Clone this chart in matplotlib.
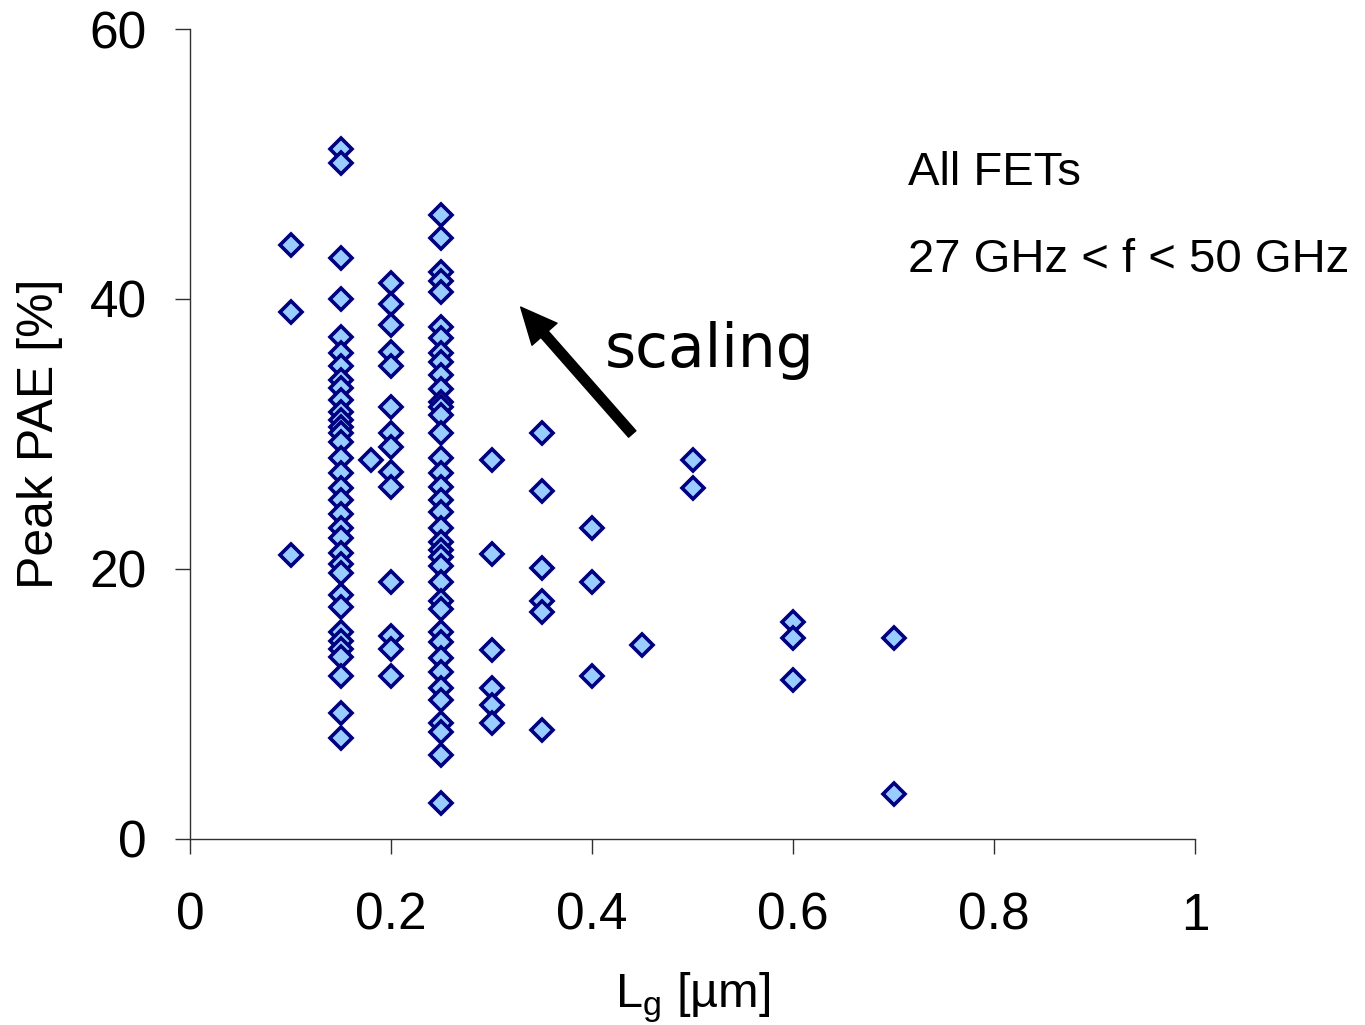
import numpy as np
import matplotlib
matplotlib.use('agg')
import matplotlib.pyplot as plt

matplotlib.rc('font', family=['Liberation Sans', 'DejaVu Sans'], size=34)

pae_010 = [44.0, 39.0, 21.0]
pae_015 = [51.1, 50.1, 43.0, 40.0, 37.2, 36.0, 35.0, 34.0, 33.4, 32.5, 31.6,
           31.0, 30.5, 30.1, 29.4, 28.2, 27.1, 26.0, 25.1, 24.1, 23.0, 22.3,
           21.2, 20.4, 19.7, 18.1, 17.2, 15.3, 14.7, 14.1, 13.5, 12.1, 9.3, 7.5]
pae_018 = [28.1]
pae_020 = [41.2, 39.6, 38.1, 36.1, 35.0, 32.0, 30.1, 29.0, 27.2, 26.1, 19.0,
           15.0, 14.1, 12.1]
pae_025 = [46.2, 44.5, 42.0, 41.3, 40.5, 37.9, 37.1, 36.0, 35.3, 34.4, 33.3,
           32.4, 32.0, 31.4, 30.1, 28.2, 27.1, 26.1, 25.1, 24.2, 23.0, 22.0,
           21.4, 20.9, 20.2, 19.0, 17.6, 17.0, 15.3, 14.6, 13.4, 12.4, 11.2,
           10.3, 8.6, 7.9, 6.2, 2.7]
pae_030 = [28.1, 21.1, 14.0, 11.2, 9.9, 8.6]
pae_035 = [30.1, 25.8, 20.1, 17.6, 16.8, 8.1]
pae_040 = [23.0, 19.0, 12.1]
pae_045 = [14.4]
pae_050 = [28.1, 26.0]
pae_060 = [16.1, 14.9, 11.8]
pae_070 = [14.9, 3.3]

groups = [(0.10, pae_010), (0.15, pae_015), (0.18, pae_018), (0.20, pae_020),
          (0.25, pae_025), (0.30, pae_030), (0.35, pae_035), (0.40, pae_040),
          (0.45, pae_045), (0.50, pae_050), (0.60, pae_060), (0.70, pae_070)]
lg = np.concatenate([[g] * len(v) for g, v in groups])
pae = np.concatenate([v for g, v in groups])

fig = plt.figure(figsize=(13.65, 10.25), dpi=100)
ax = fig.add_axes([0.1392, 0.1815, 0.7363, 0.7902])

ax.plot(lg, pae, 'D', ms=11.5, mfc='#99CCFF', mec='#000080', mew=2.6,
        clip_on=False)

ax.set_xlim(0, 1)
ax.set_ylim(0, 60)
ax.set_xticks([0, 0.2, 0.4, 0.6, 0.8, 1])
ax.set_xticklabels(['0', '0.2', '0.4', '0.6', '0.8', '1'])
ax.set_yticks([0, 20, 40, 60])
for s in ['top', 'right']:
    ax.spines[s].set_visible(False)
for s in ['left', 'bottom']:
    ax.spines[s].set_color('#303030')
    ax.spines[s].set_linewidth(1.0)
ax.tick_params(axis='x', length=11, width=1.0, color='#303030', pad=27,
               labelsize=37)
ax.tick_params(axis='y', length=11, width=1.0, color='#303030', pad=20,
               labelsize=37)

ax.set_xlabel(r'L$_\mathregular{g}$ [µm]', fontsize=35, va='center')
ax.xaxis.set_label_coords(0.5, -0.196)
ax.set_ylabel('Peak PAE [%]', fontsize=36, va='center')
ax.yaxis.set_label_coords(-0.149, 0.5)

# annotations
ax.text(0.714, 49.3, 'All FETs', fontsize=34, va='center', ha='left')
ax.text(0.714, 42.9, '27 GHz < f < 50 GHz', fontsize=34, va='center',
        ha='left')
ax.annotate('', xy=(0.329, 39.4), xytext=(0.440, 30.0),
            arrowprops=dict(width=7, headwidth=24, headlength=26,
                            color='black', shrink=0))
ax.text(0.413, 36.2, 'scaling', fontsize=43, family='DejaVu Sans',
        va='center', ha='left')

plt.savefig('out.png', dpi=100)
plt.close()
